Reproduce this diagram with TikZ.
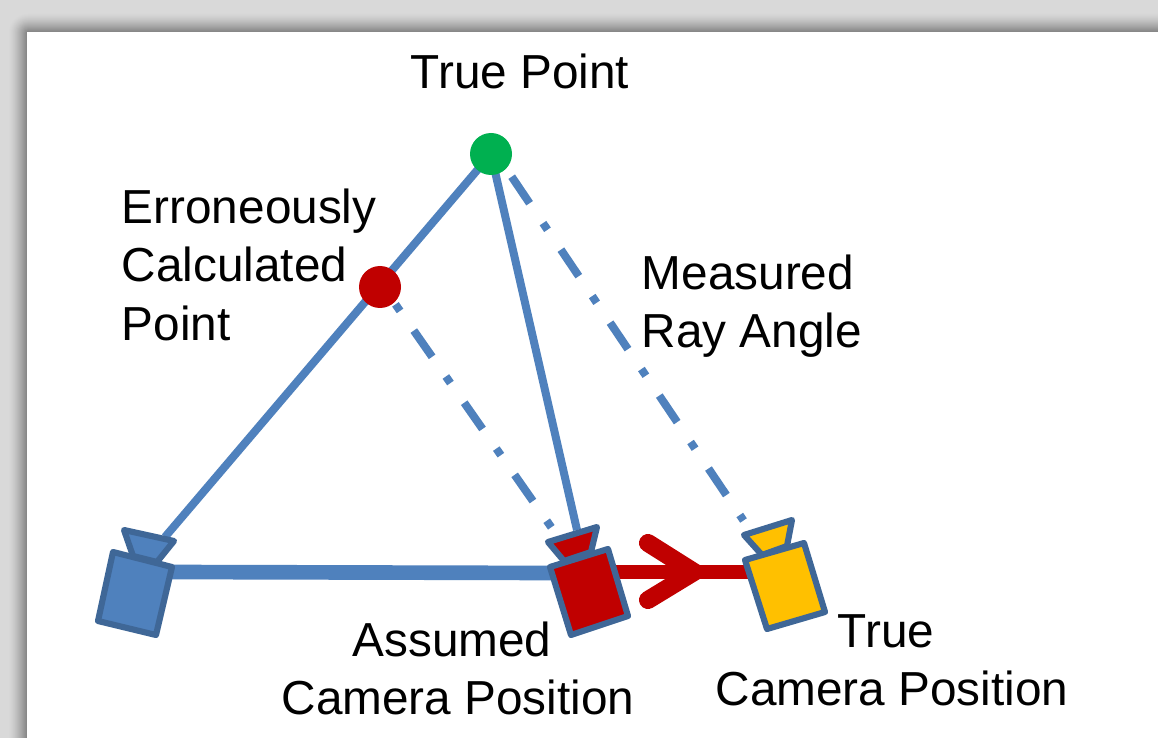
\documentclass[tikz,border=0pt]{standalone}
\usepackage{fontspec}
\setmainfont{Liberation Sans}
\definecolor{pagebg}{HTML}{D9D9D9}
\definecolor{shadowc}{HTML}{888888}
\definecolor{rayblue}{HTML}{4F81BD}
\definecolor{edgeblue}{HTML}{3F6797}
\definecolor{darkred}{HTML}{C00000}
\definecolor{amber}{HTML}{FFC000}
\definecolor{ptgreen}{HTML}{00B050}
\tikzset{
  px/.style={x=0.75pt,y=-0.75pt},
  label text/.style={inner sep=0pt,font=\fontsize{35.8}{43.6}\selectfont,text=black},
  ray/.style={draw=rayblue,line width=6pt},
  baseline ray/.style={draw=rayblue,line width=11pt},
  dashray/.style={draw=rayblue,line width=6pt,dash pattern=on 24pt off 18pt on 6pt off 18pt},
  shift arrow/.style={draw=darkred,line width=11pt},
  shift head/.style={draw=darkred,line width=13.5pt,line cap=round,line join=miter},
  cam/.style={draw=edgeblue,line width=4.6pt,line join=round},
  point/.style={circle,inner sep=0pt,minimum size=31.5pt},
}
\begin{document}
\begin{tikzpicture}[px]
\useasboundingbox (0,0) rectangle (1158,738);
\clip (0,0) rectangle (1158,738);
\fill[pagebg] (0,0) rectangle (1158,738);
% soft page shadow
\foreach \i in {0,...,17}{
  \pgfmathsetmacro{\mixv}{100*((\i+1)/18)^1.4}
  \pgfmathsetmacro{\rad}{(18-\i)*0.75+1}
  \fill[shadowc!\mixv!pagebg,rounded corners=\rad pt]
    (9+\i,14+\i) rectangle (1200,780);
}
\fill[white] (27,32) rectangle (1200,780);

% named locations
\coordinate (blueTop) at (165,537);
\coordinate (blueSide) at (170,572);
\coordinate (redLens) at (577,530);
\coordinate (redSide) at (552,573);
\coordinate (redDash) at (551.3,527.3);
\coordinate (yelDash) at (743.5,520.5);
\coordinate (arrowStart) at (612,572);
\coordinate (arrowEnd) at (750,572);
\coordinate (arrowTip) at (694,572);
\coordinate (barbA) at (648,543);
\coordinate (barbB) at (648,600);

\coordinate (truePtC) at (491,154);
\coordinate (errPtC) at (380,287);
\coordinate (errDash) at (381.7,284.7);
\coordinate (trueDash) at (511.7,176.7);

% rays (drawn beneath the markers)
\draw[dashray,dash phase=24pt] (errDash) -- (redDash);
\draw[dashray] (trueDash) -- (yelDash);
\draw[ray] (truePtC) -- (blueTop);
\draw[ray] (truePtC) -- (redLens);
\draw[baseline ray] (blueSide) -- (redSide);
\draw[shift arrow] (arrowStart) -- (arrowEnd);
\draw[shift head] (barbA) -- (arrowTip) -- (barbB);

\node[point,fill=ptgreen] (truePt) at (truePtC) {};
\node[point,fill=darkred] (errPt) at (errPtC) {};

% cameras
\draw[cam,fill=rayblue] (124,530) -- (174,541) -- (157,562) -- (133,556) -- cycle;
\draw[cam,fill=rayblue] (113,552) -- (172,567) -- (156,635) -- (98,621) -- cycle;
\draw[cam,fill=darkred] (548,542) -- (597,527) -- (591,552) -- (564,561) -- cycle;
\draw[cam,fill=darkred] (550,567) -- (608,549) -- (628,616) -- (571,635) -- cycle;
\draw[cam,fill=amber] (744,535) -- (792,520) -- (787,546) -- (762,555) -- cycle;
\draw[cam,fill=amber] (745,560) -- (804,543) -- (825,612) -- (767,629) -- cycle;

% labels
\node[label text,anchor=base west] (lblTrue) at (410.5,89) {True Point};
\node[label text,anchor=north west,align=left] (lblErr) at (121.5,189) {Erroneously\\Calculated\\Point};
\node[label text,anchor=north west,align=left] (lblRay) at (641.5,255) {Measured\\Ray Angle};
\node[label text,anchor=north,align=center] (lblAssumed) at (458,622) {Assumed\hspace*{9pt}\mbox{}\\Camera Position};
\node[label text,anchor=north,align=center] (lblTrueCam) at (892,614) {True\hspace*{9pt}\mbox{}\\Camera Position};
\end{tikzpicture}
\end{document}
